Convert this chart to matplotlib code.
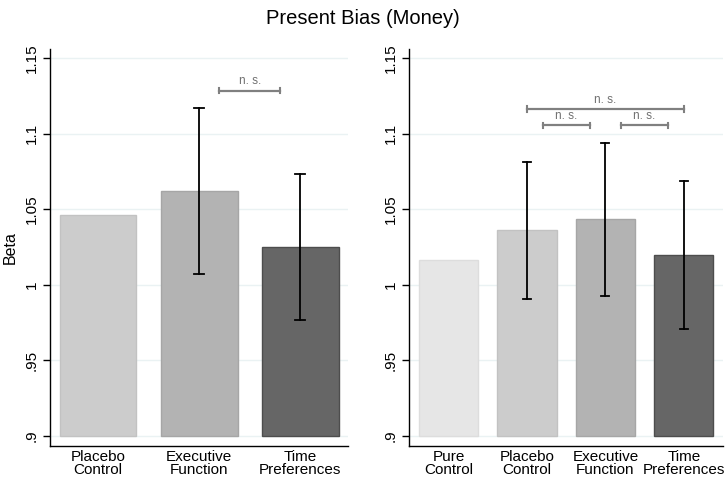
import matplotlib.pyplot as plt

plt.rcParams['font.family'] = ['Liberation Sans', 'DejaVu Sans']

# left panel
left_labels = ["Placebo\nControl", "Executive\nFunction", "Time\nPreferences"]
left_beta = [1.046, 1.062, 1.025]
left_hi = [None, 1.117, 1.073]
left_lo = [None, 1.007, 0.977]
left_colors = ["#cccccc", "#b3b3b3", "#666666"]
left_edges = ["#c2c2c2", "#a6a6a6", "#4d4d4d"]
left_ns = [(2, 3, 1.1285)]

# right panel
right_labels = ["Pure\nControl", "Placebo\nControl", "Executive\nFunction", "Time\nPreferences"]
right_beta = [1.0165, 1.036, 1.0437, 1.020]
right_hi = [None, 1.081, 1.094, 1.069]
right_lo = [None, 0.9905, 0.9927, 0.9707]
right_colors = ["#e6e6e6", "#cccccc", "#b3b3b3", "#666666"]
right_edges = ["#dddddd", "#c2c2c2", "#a6a6a6", "#4d4d4d"]
right_ns = [(2, 4, 1.1162), (2, 3, 1.1054), (3, 4, 1.1054)]

yticks = [0.9, 0.95, 1.0, 1.05, 1.1, 1.15]
ytick_labels = [".9", ".95", "1", "1.05", "1.1", "1.15"]


def draw_panel(ax, labels, beta, hi, lo, colors, edges, ns, width, xlim):
    xs = list(range(1, len(labels) + 1))
    ax.bar(xs, [b - 0.9 for b in beta], bottom=0.9, width=width,
           color=colors, edgecolor=edges, linewidth=1, zorder=2)
    for x, h, l in zip(xs, hi, lo):
        if h is None:
            continue
        ax.plot([x, x], [l, h], color="black", lw=1.3, zorder=3)
        ax.plot([x - 0.05, x + 0.05], [h, h], color="black", lw=1.3, zorder=3)
        ax.plot([x - 0.05, x + 0.05], [l, l], color="black", lw=1.3, zorder=3)
    for a, b, y in ns:
        if b - a == 1:
            x0, x1 = a + 0.2, b - 0.2
        else:
            x0, x1 = a, b
        ax.plot([x0, x1], [y, y], color="#808080", lw=1.6, zorder=3)
        ax.plot([x0, x0], [y - 0.0018, y + 0.0018], color="#808080", lw=1.5)
        ax.plot([x1, x1], [y - 0.0018, y + 0.0018], color="#808080", lw=1.5)
        ax.text((x0 + x1) / 2, y + 0.0022, "n. s.", ha="center", va="bottom",
                fontsize=8.5, color="#707070")
    ax.set_xlim(*xlim)
    ax.set_ylim(0.8934, 1.156)
    ax.set_yticks(yticks)
    ax.set_yticklabels(ytick_labels, rotation=90, va="center", fontsize=11)
    ax.set_xticks(xs)
    ax.set_xticklabels(labels, fontsize=11, linespacing=0.85)
    ax.tick_params(axis="x", length=0, pad=3)
    ax.tick_params(axis="y", length=5, width=1, pad=3)
    ax.grid(True, axis="y", color="#eaf2f3", lw=1, zorder=0)
    ax.set_axisbelow(True)
    for s in ["top", "right"]:
        ax.spines[s].set_visible(False)
    ax.spines["left"].set_linewidth(1)
    ax.spines["bottom"].set_linewidth(1)


fig = plt.figure(figsize=(7.27, 4.78), dpi=100)
ax1 = fig.add_axes([50 / 727, 1 - 446 / 478, 298 / 727, 397 / 478])
ax2 = fig.add_axes([409 / 727, 1 - 446 / 478, 314 / 727, 397 / 478])

draw_panel(ax1, left_labels, left_beta, left_hi, left_lo, left_colors,
           left_edges, left_ns, 0.76, (0.5255, 3.47))
draw_panel(ax2, right_labels, right_beta, right_hi, right_lo, right_colors,
           right_edges, right_ns, 0.755, (0.4955, 4.50))

ax1.set_ylabel("Beta", fontsize=11.5, labelpad=5)
fig.text(363 / 727, 1 - 18 / 478, "Present Bias (Money)", ha="center",
         va="center", fontsize=14.5)

fig.savefig("out.png", dpi=100)
